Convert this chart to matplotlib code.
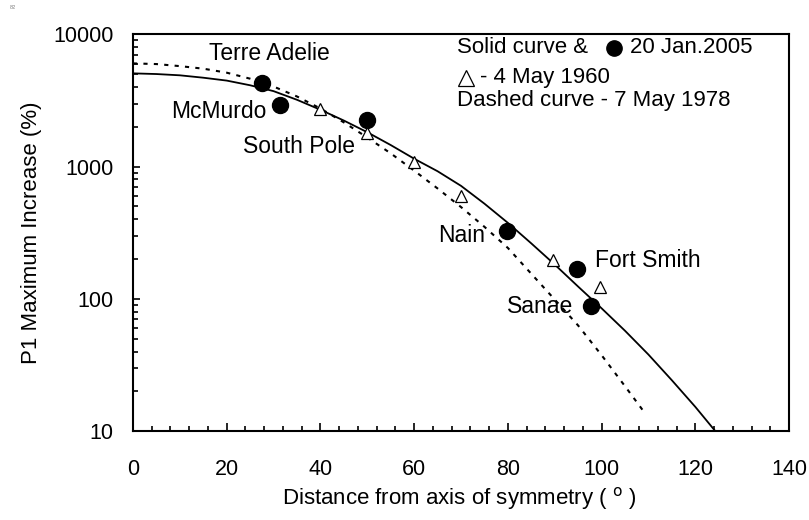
import matplotlib.pyplot as plt
from matplotlib.ticker import MultipleLocator, LogLocator, NullFormatter

plt.rcParams['font.family'] = ['Liberation Sans', 'DejaVu Sans']

# Filled circles: 20 Jan 2005 (station data)
jan2005_dist = [27.5, 31.4, 49.9, 79.8, 94.7, 97.7]
jan2005_inc = [4300, 2900, 2240, 324, 167, 88]

# Open triangles: 4 May 1960
may1960_dist = [39.9, 49.9, 60.0, 70.0, 89.6, 99.7]
may1960_inc = [2710, 1790, 1080, 597, 196, 124]

# Solid curve
solid_dist = [0, 5, 10, 15, 20, 25, 30, 35, 40, 45, 50, 55, 60, 65, 70, 75, 80,
              85, 90, 95, 100, 105, 110, 115, 120, 124.3]
solid_inc = [5070, 5010, 4900, 4700, 4470, 4120, 3720, 3200, 2690, 2230, 1820,
             1456, 1148, 923, 716, 525, 376, 263, 182, 124, 85, 57.5, 38, 24.3,
             15.3, 10]

# Dashed curve, 7 May 1978
dashed_dist = [0, 5, 10, 15, 20, 25, 30, 35, 40, 45, 50, 55, 60, 65, 70, 75, 80,
               85, 90, 95, 100, 105, 109]
dashed_inc = [6030, 5960, 5750, 5500, 5130, 4620, 4030, 3390, 2750, 2160, 1660,
              1260, 933, 684, 495, 351, 243, 155, 99, 63, 37.6, 21.9, 14.1]

stations = ["Terre Adelie", "McMurdo", "South Pole", "Nain", "Fort Smith", "Sanae"]
station_x = [16.2, 8.1, 23.5, 65.1, 98.6, 79.8]
station_y = [7220, 2590, 1432, 304, 197, 87]

fig = plt.figure(figsize=(8.09, 5.2), dpi=100)
ax = fig.add_axes([0.1644, 0.1706, 0.8109, 0.7634])

ax.plot(solid_dist, solid_inc, color='black', lw=1.3)
ax.plot(dashed_dist, dashed_inc, color='black', lw=1.5, linestyle=(0, (2, 3)))
ax.plot(jan2005_dist, jan2005_inc, 'o', color='black', ms=11.5)
ax.plot(may1960_dist, may1960_inc, '^', mfc='white', mec='black', mew=0.9, ms=9)

for name, sx, sy in zip(stations, station_x, station_y):
    ax.text(sx, sy, name, fontsize=16.5, ha='left', va='center')

# legend-like annotation
ax.text(0.494, 0.968, "Solid curve &", transform=ax.transAxes, fontsize=16, va='center')
ax.plot([0.733], [0.965], 'o', color='black', ms=11, transform=ax.transAxes, clip_on=False)
ax.text(0.758, 0.968, "20 Jan.2005", transform=ax.transAxes, fontsize=16, va='center')
ax.plot([0.508], [0.89], '^', mfc='white', mec='black', mew=0.9, ms=12,
        transform=ax.transAxes, clip_on=False)
ax.text(0.529, 0.892, "- 4 May 1960", transform=ax.transAxes, fontsize=16, va='center')
ax.text(0.494, 0.833, "Dashed curve - 7 May 1978", transform=ax.transAxes, fontsize=16, va='center')

ax.set_yscale('log')
ax.set_xlim(0, 140)
ax.set_ylim(10, 10000)
ax.xaxis.set_major_locator(MultipleLocator(20))
ax.xaxis.set_minor_locator(MultipleLocator(4))
ax.yaxis.set_minor_locator(LogLocator(base=10, subs=range(2, 10)))
ax.yaxis.set_minor_formatter(NullFormatter())
ax.set_yticks([10, 100, 1000, 10000])
ax.set_yticklabels(['10', '100', '1000', '10000'])

ax.tick_params(which='both', direction='in', width=1.2, labelsize=15.5)
ax.tick_params(axis='x', which='major', length=6, pad=20)
ax.tick_params(axis='x', which='minor', length=3.5)
ax.tick_params(axis='y', which='major', length=5, pad=14)
ax.tick_params(axis='y', which='minor', length=3.5)
for s in ax.spines.values():
    s.set_linewidth(1.5)

ax.set_xlabel("Distance from axis of symmetry ( $^{\\mathrm{o}}$ )", fontsize=16)
ax.set_ylabel("P1 Maximum Increase (%)", fontsize=16)
ax.xaxis.set_label_coords(0.498, -0.135)
ax.yaxis.set_label_coords(-0.139, 0.5)

fig.text(0.012, 0.99, "82", fontsize=4, color='gray', va='top')

fig.savefig("out.png", dpi=100)
